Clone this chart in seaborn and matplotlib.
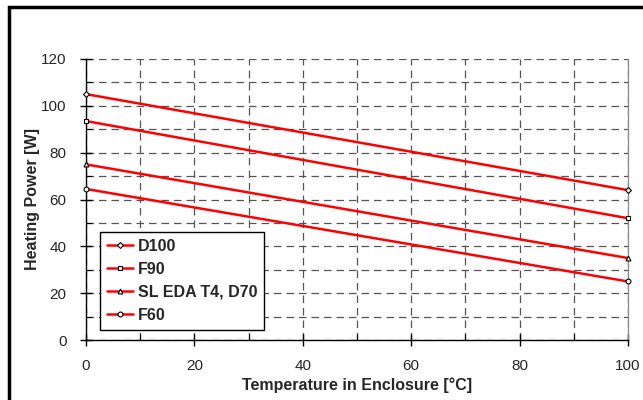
import numpy as np
import pandas as pd
import matplotlib
matplotlib.use("Agg")
import matplotlib.pyplot as plt
from matplotlib.patches import Rectangle
from matplotlib.ticker import MultipleLocator
import seaborn as sns

# data: heating power at 0 and 100 degC
temperature = [0, 100]
series_names = ["D100", "F90", "SL EDA T4, D70", "F60"]
d100 = [105, 64]
f90 = [93.5, 52]
sl_eda = [75, 35]
f60 = [64.5, 25]
markers = ["D", "s", "^", "o"]

df = pd.DataFrame({
    "temp": temperature * 4,
    "power": d100 + f90 + sl_eda + f60,
    "series": [n for n in series_names for _ in temperature],
})

sns.set_style("white")
plt.rcParams["font.family"] = ["Liberation Sans", "DejaVu Sans"]

fig = plt.figure(figsize=(6.43, 4.0), dpi=100)
ax = fig.add_axes([86 / 643, 1 - 340 / 400, (628 - 86) / 643, (340 - 59) / 400])

for name, mk in zip(series_names, markers):
    sub = df[df.series == name]
    sns.lineplot(data=sub, x="temp", y="power", ax=ax, color="red", lw=1.8,
                 marker=mk, markersize=3.5 if mk != "D" else 3,
                 markerfacecolor="white", markeredgecolor="black",
                 markeredgewidth=0.8, label=name, clip_on=False, zorder=3)

ax.set_xlim(0, 100)
ax.set_ylim(0, 120)
ax.xaxis.set_major_locator(MultipleLocator(20))
ax.xaxis.set_minor_locator(MultipleLocator(10))
ax.yaxis.set_major_locator(MultipleLocator(20))
ax.yaxis.set_minor_locator(MultipleLocator(10))
ax.grid(True, which="both", color="#555555", ls=(0, (6, 4)), lw=0.9)
ax.tick_params(which="major", direction="inout", length=8, width=1,
               color="black", labelsize=11, pad=10, bottom=True, left=True)
ax.tick_params(which="minor", direction="in", length=4, width=0.8,
               color="black", bottom=True, left=True)

ax.spines["top"].set_visible(False)
ax.spines["right"].set_color("#888888")
ax.spines["right"].set_linewidth(0.9)
for side in ["left", "bottom"]:
    ax.spines[side].set_color("black")
    ax.spines[side].set_linewidth(1)

ax.set_xlabel("Temperature in Enclosure [°C]", fontsize=11.5, fontweight="bold", labelpad=3)
ax.set_ylabel("Heating Power [W]", fontsize=11.5, fontweight="bold", labelpad=1)

leg = ax.legend(loc="lower left", bbox_to_anchor=(0.026, 0.036), borderaxespad=0,
                fancybox=False, framealpha=1, edgecolor="black", handlelength=1.6,
                prop={"weight": "bold", "size": 11.5}, borderpad=0.45,
                labelspacing=0.5, handletextpad=0.3)
leg.get_frame().set_linewidth(1)

# outer chart border
fig.patches.append(Rectangle((9 / 643, -0.05), 1.1, 1 - 7 / 400 + 0.05,
                             transform=fig.transFigure, fill=False,
                             edgecolor="black", lw=2.5))

fig.savefig("out.png", dpi=100)
